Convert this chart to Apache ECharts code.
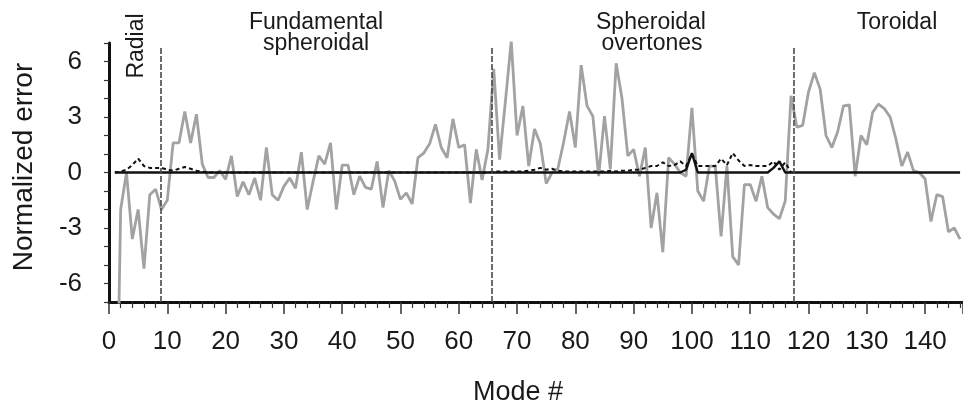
<!DOCTYPE html>
<html>
<head>
<meta charset="utf-8">
<script src="https://cdn.jsdelivr.net/npm/echarts@6/dist/echarts.min.js"></script>
<style>
html,body{margin:0;padding:0;background:#fff;}
#chart{width:963px;height:409px;}
</style>
</head>
<body>
<div id="chart"></div>
<script>
// Mode numbers start at 1 (one value per mode)
const firstMode = 1;

// Grey line: normalized error per mode (modes 1..146)
const greyValues = [
  -20, -2.0, 0.0, -3.6, -2.0, -5.2, -1.2, -0.9, -2.0, -1.5,
  1.6, 1.6, 3.3, 1.6, 3.15, 0.45, -0.27, -0.27, 0.1, -0.37,
  0.9, -1.3, -0.5, -1.2, -0.3, -1.5, 1.35, -1.2, -1.5, -0.75,
  -0.3, -0.85, 1.1, -2.0, -0.5, 0.9, 0.45, 1.6, -2.0, 0.4,
  0.4, -1.2, -0.2, -0.8, -0.9, 0.6, -1.9, 0.1, -0.45, -1.45,
  -1.1, -1.7, 0.8, 1.05, 1.55, 2.6, 1.35, 0.8, 2.9, 1.35,
  1.5, -1.65, 1.25, -0.4, 1.25, 5.6, 0.7, 3.85, 7.1, 2.0,
  3.6, 0.35, 2.35, 1.55, -0.6, 0.0, 0.2, 1.65, 3.3, 1.35,
  5.8, 3.6, 3.05, -0.2, 3.05, 0.2, 5.9, 4.0, 0.9, 1.25,
  -0.2, 1.35, -3.0, -1.1, -4.3, 0.8, 0.45, 0.0, -0.2, 3.5,
  -1.0, -1.55, 0.35, 0.35, -3.45, 0.35, -4.55, -5.0, -0.65, -0.65,
  -1.55, -0.2, -1.9, -2.25, -2.5, -1.55, 4.15, 2.45, 2.55, 4.35,
  5.4, 4.5, 2.0, 1.35, 2.2, 3.6, 3.65, -0.2, 2.0, 1.5,
  3.25, 3.7, 3.45, 3.0, 1.8, 0.35, 1.1, 0.1, 0.0, -0.35,
  -2.65, -1.2, -1.3, -3.2, -3.0, -3.6
];

// Dotted black line (modes 1..117)
const dottedValues = [
  0, 0.05, 0.15, 0.4, 0.75, 0.35, 0.25, 0.25, 0.25, 0.15,
  0.1, 0.2, 0.3, 0.2, 0.1, 0.05, 0, 0, 0, 0,
  0, 0, 0, 0, 0, 0, 0, 0, 0, 0,
  0, 0, 0, 0, 0, 0, 0, 0, 0, 0,
  0, 0, 0, 0, 0, 0, 0, 0, 0, 0,
  0, 0, 0, 0, 0, 0, 0, 0, 0, 0,
  0, 0, 0, 0, 0, 0.05, 0.05, 0.05, 0.05, 0.05,
  0.05, 0.1, 0.15, 0.25, 0.15, 0.2, 0.1, 0.05, 0.05, 0.05,
  0.05, 0.05, 0.05, 0.05, 0.05, 0.1, 0.05, 0.1, 0.1, 0.15,
  0.15, 0.25, 0.35, 0.35, 0.55, 0.35, 0.4, 0.6, 0.35, 1.0,
  0.35, 0.35, 0.35, 0.35, 0.75, 0.4, 1.05, 0.65, 0.35, 0.4,
  0.35, 0.35, 0.35, 0.6, 0.15, 0.55, 0
];

// Solid black line (modes 1..146)
const solidValues = [
  0, 0, 0, 0, 0, 0, 0, 0, 0, 0,
  0, 0, 0, 0, 0, 0, 0, 0, 0, 0,
  0, 0, 0, 0, 0, 0, 0, 0, 0, 0,
  0, 0, 0, 0, 0, 0, 0, 0, 0, 0,
  0, 0, 0, 0, 0, 0, 0, 0, 0, 0,
  0, 0, 0, 0, 0, 0, 0, 0, 0, 0,
  0, 0, 0, 0, 0, 0, 0, 0, 0, 0,
  0, 0, 0, 0, 0, 0, 0, 0, 0, 0,
  0, 0, 0, 0, 0, 0, 0, 0, 0, 0,
  0, 0, 0, 0, 0, 0, 0, 0, 0.15, 1.05,
  0, 0, 0, 0, 0, 0, 0, 0, 0, 0,
  0, 0, 0, 0.25, 0.6, 0, 0, 0, 0, 0,
  0, 0, 0, 0, 0, 0, 0, 0, 0, 0,
  0, 0, 0, 0, 0, 0, 0, 0, 0, 0,
  0, 0, 0, 0, 0, 0
];

// Section boundaries (mode #) and section labels
const boundaries = [8.85, 65.6, 117.5];
const sectionLabels = ['Radial', 'Fundamental\nspheroidal', 'Spheroidal\novertones', 'Toroidal'];

// Axis settings
const xMin = 0, xMax = 146.5, xStep = 10;
const yMin = -7, yMax = 7, yStep = 1, yLabelStep = 3;
const boundaryTop = 6.75;

const toPairs = arr => arr.map((v, i) => [firstMode + i, v]);

const chart = echarts.init(document.getElementById('chart'), null, {renderer: 'canvas'});
const FONT = '"Liberation Sans", Arial, Helvetica, sans-serif';
const TXT = '#1a1a1a';

const option = {
  animation: false,
  backgroundColor: '#fff',
  grid: {left: 109, right: 0, top: 43, bottom: 107, containLabel: false},
  xAxis: {
    type: 'value', min: xMin, max: xMax, interval: xStep,
    axisLine: {onZero: false, lineStyle: {color: '#111', width: 3}},
    axisTick: {show: true, length: 12, lineStyle: {color: '#333', width: 1.5}},
    minorTick: {show: true, splitNumber: 5, length: 6, lineStyle: {color: '#333', width: 1.2}},
    splitLine: {show: false},
    axisLabel: {
      margin: 27, fontSize: 26, color: TXT, fontFamily: FONT,
      showMaxLabel: false,
      formatter: v => (Math.abs(v % xStep) < 1e-9 ? String(v) : '')
    }
  },
  yAxis: {
    type: 'value', min: yMin, max: yMax, interval: yStep,
    axisLine: {show: true, onZero: false, lineStyle: {color: '#111', width: 3}},
    axisTick: {show: true, length: 5, lineStyle: {color: '#333', width: 1.2}},
    splitLine: {show: false},
    axisLabel: {
      margin: 27, fontSize: 26, color: TXT, fontFamily: FONT,
      formatter: v => (Math.abs(v % yLabelStep) < 1e-9 ? String(v) : '')
    }
  },
  series: [
    {
      type: 'line', name: 'grey', data: toPairs(greyValues),
      symbol: 'none', clip: true,
      lineStyle: {color: '#a2a2a2', width: 2.8},
      z: 2
    },
    {
      type: 'line', name: 'dotted', data: toPairs(dottedValues),
      symbol: 'none', clip: true,
      lineStyle: {color: '#111', width: 2, type: [4, 3]},
      z: 3
    },
    {
      type: 'line', name: 'solid', data: toPairs(solidValues),
      symbol: 'none', clip: true,
      lineStyle: {color: '#111', width: 2.4},
      z: 4,
      markLine: {
        silent: true, symbol: ['none', 'none'],
        label: {show: false},
        lineStyle: {color: '#4a4a4a', width: 1.6, type: [6, 2]},
        data: boundaries.map(b => [{coord: [b, yMin]}, {coord: [b, boundaryTop]}])
      }
    }
  ],
  graphic: [
    {type: 'text', x: 137, y: 46, rotation: Math.PI / 2,
     style: {text: sectionLabels[0], font: '23px ' + FONT, fill: TXT, align: 'center', verticalAlign: 'middle'}},
    {type: 'text', x: 316, y: 23,
     style: {text: 'Fundamental', font: '23px ' + FONT, fill: TXT, align: 'center', verticalAlign: 'middle'}},
    {type: 'text', x: 316, y: 44,
     style: {text: 'spheroidal', font: '23px ' + FONT, fill: TXT, align: 'center', verticalAlign: 'middle'}},
    {type: 'text', x: 651, y: 23,
     style: {text: 'Spheroidal', font: '23px ' + FONT, fill: TXT, align: 'center', verticalAlign: 'middle'}},
    {type: 'text', x: 652, y: 44,
     style: {text: 'overtones', font: '23px ' + FONT, fill: TXT, align: 'center', verticalAlign: 'middle'}},
    {type: 'text', x: 897, y: 23,
     style: {text: sectionLabels[3], font: '23px ' + FONT, fill: TXT, align: 'center', verticalAlign: 'middle'}},
    {type: 'text', x: 24, y: 167, rotation: Math.PI / 2,
     style: {text: 'Normalized error', font: '28px ' + FONT, fill: TXT, align: 'center', verticalAlign: 'middle'}},
    {type: 'text', x: 518, y: 393,
     style: {text: 'Mode #', font: '27px ' + FONT, fill: TXT, align: 'center', verticalAlign: 'middle'}}
  ]
};
chart.setOption(option);
</script>
</body>
</html>
